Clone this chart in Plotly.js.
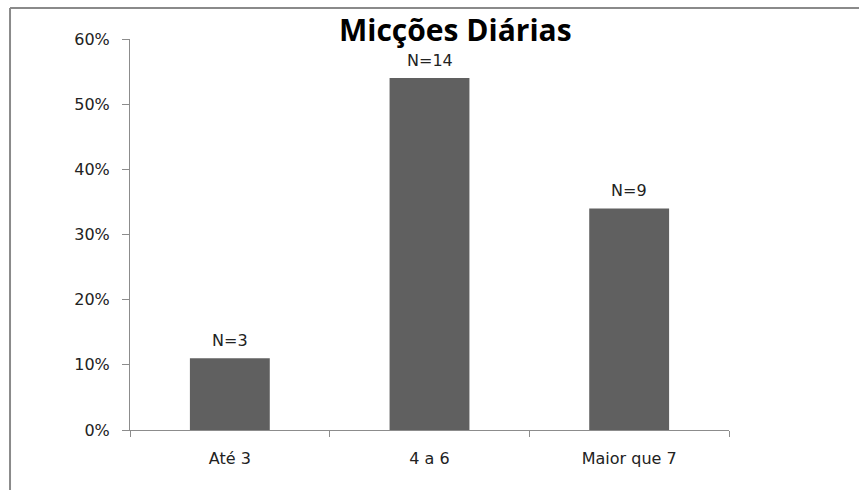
<!DOCTYPE html>
<html><head><meta charset="utf-8">
<script src="https://cdn.plot.ly/plotly-3.0.1.min.js"></script>
<style>html,body{margin:0;padding:0;background:#fff;}#chart{width:859px;height:490px;}</style>
</head><body><div id="chart"></div>
<script>
const categories = ["Até 3", "4 a 6", "Maior que 7"];
const percentValues = [11, 54, 34];
const countLabels = ["N=3", "N=14", "N=9"];
const yTickValues = [0, 10, 20, 30, 40, 50, 60];
const yTickLabels = ["0%", "10%", "20%", "30%", "40%", "50%", "60%"];

const annotations = categories.map((c, i) => ({
  x: c, y: percentValues[i], xref: 'x', yref: 'y', text: countLabels[i],
  showarrow: false, yanchor: 'bottom', yshift: 6,
  font: {family: 'DejaVu Sans', size: 16, color: '#222'}
}));
annotations.push({
  xref: 'paper', yref: 'paper', x: 0.5434, y: 1.0, yanchor: 'bottom', xanchor: 'center', yshift: -13,
  text: '<b>Micções Diárias</b>', showarrow: false,
  font: {family: 'Open Sans', size: 30, color: '#000'}
});

const data = [{
  type: 'bar', x: categories, y: percentValues,
  marker: {color: '#606060', line: {width: 0}},
  hoverinfo: 'none'
}];

const layout = {
  width: 859, height: 490,
  margin: {l: 130, r: 130, t: 39, b: 60},
  paper_bgcolor: '#fff', plot_bgcolor: '#fff',
  bargap: 0.6,
  showlegend: false,
  xaxis: {
    type: 'category', showline: true, linecolor: '#8c8c8c', linewidth: 1,
    ticks: 'outside', tickson: 'boundaries', ticklen: 6, tickcolor: '#8c8c8c',
    showgrid: false, zeroline: false,
    tickfont: {family: 'DejaVu Sans', size: 16, color: '#222'},
    ticklabelstandoff: 14
  },
  yaxis: {
    range: [0, 60], tickvals: yTickValues, ticktext: yTickLabels,
    showline: true, linecolor: '#8c8c8c', linewidth: 1,
    ticks: 'outside', ticklen: 7, tickcolor: '#8c8c8c',
    showgrid: false, zeroline: false,
    tickfont: {family: 'DejaVu Sans', size: 16, color: '#222'},
    ticklabelstandoff: 9
  },
  annotations: annotations,
  shapes: [
    {type: 'line', xref: 'paper', yref: 'paper', x0: -0.2003, x1: 1.3, y0: 1.0793, y1: 1.0793, line: {color: '#8a8a8a', width: 2}},
    {type: 'line', xref: 'paper', yref: 'paper', x0: -0.2003, x1: -0.2003, y0: 1.0793, y1: -0.3, line: {color: '#8a8a8a', width: 2}}
  ]
};

Plotly.newPlot('chart', data, layout, {staticPlot: true, displayModeBar: false});
</script></body></html>
